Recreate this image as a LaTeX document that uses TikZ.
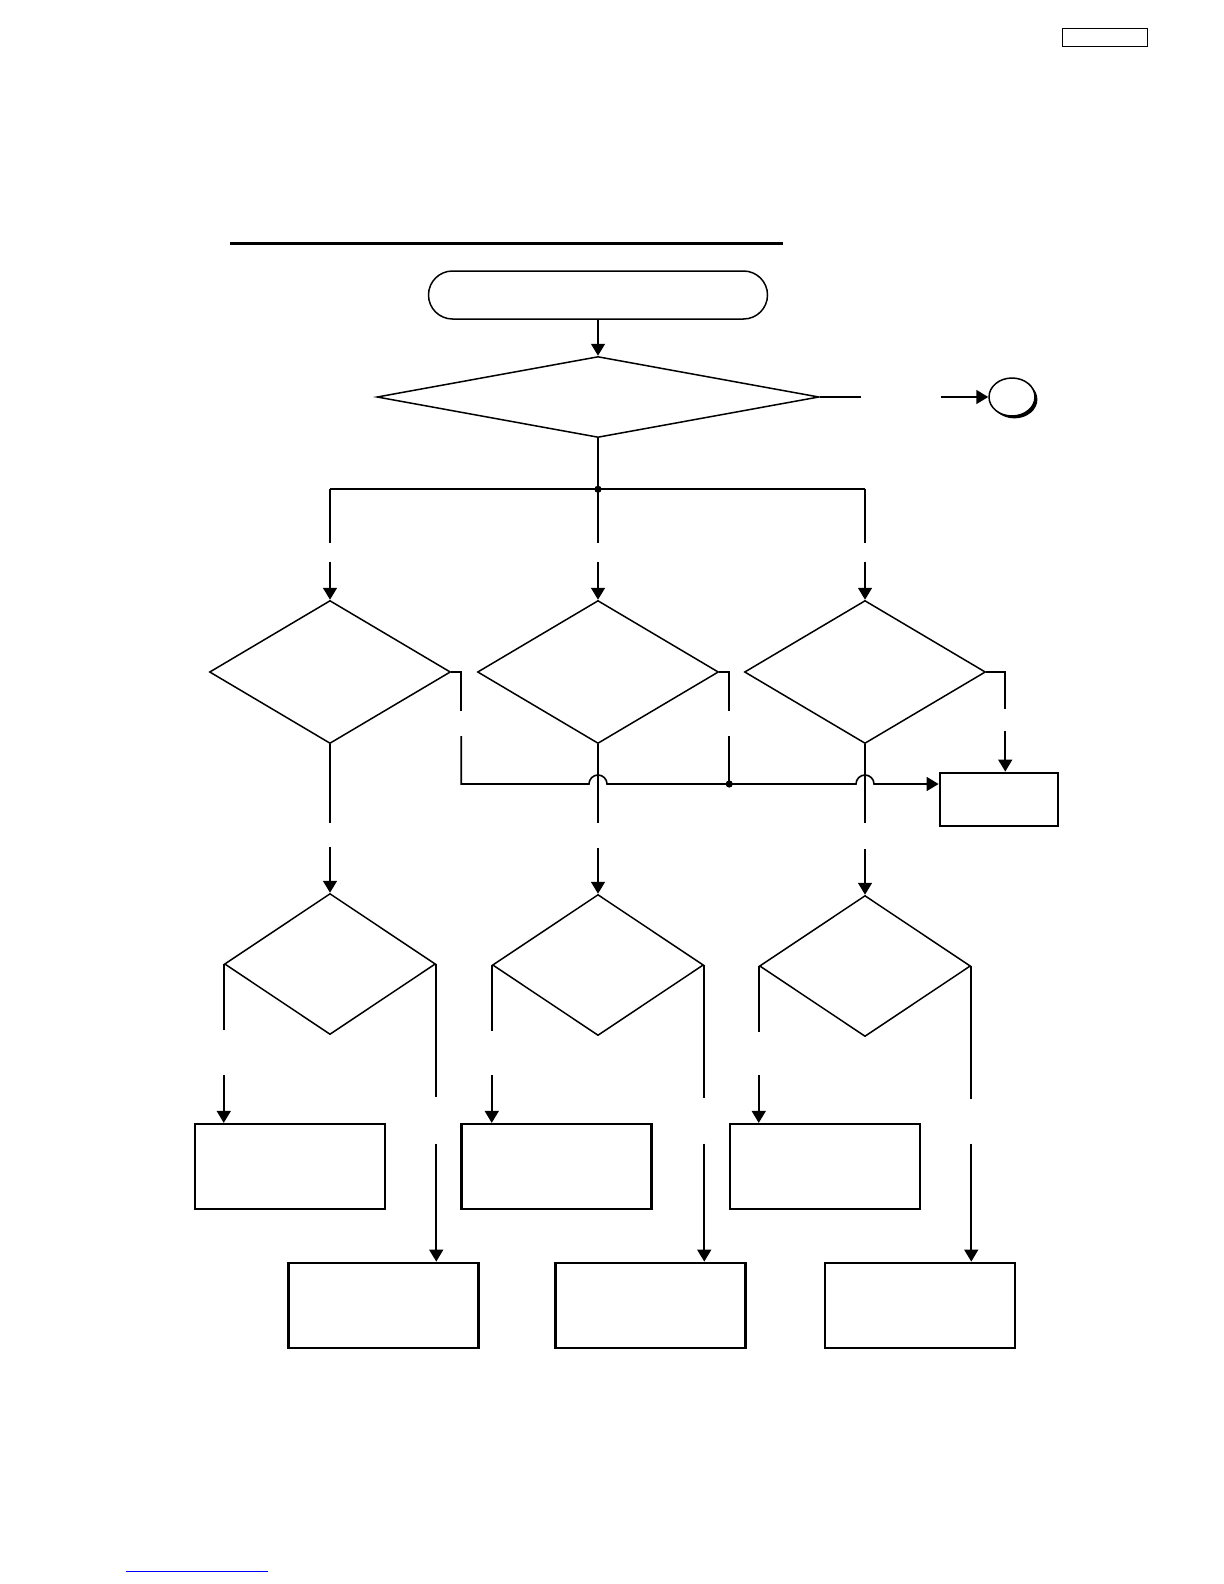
\documentclass[tikz,border=0pt]{standalone}
\usepackage{tikz}
\usetikzlibrary{arrows.meta,shapes.geometric,shadows,calc}

\tikzset{
  arr/.style={-{Triangle[length=6pt,width=7pt]}},
  decision/.style={diamond,draw,line width=0.75pt,inner sep=0pt},
  stepbox/.style={rectangle,draw,inner sep=0pt,minimum width=95pt,minimum height=42.5pt},
}

\begin{document}
\begin{tikzpicture}[x=0.5pt,y=-0.5pt,line width=0.8pt]
\useasboundingbox (0,0) rectangle (1224,1584);
\draw[line width=0.5pt] (1062,29) rectangle (1147,47);
\draw[line width=1.5pt] (230,243) -- (783,243);
\node[draw,rounded corners=12pt,line width=0.75pt,minimum width=169.5pt,minimum height=24pt] (start) at (598,295) {};
\node[decision,minimum width=221pt,minimum height=40.5pt] (dmain) at (598,397) {};
\node[ellipse,draw,fill=white,line width=0.75pt,minimum width=23pt,minimum height=19pt,inner sep=0pt,
  drop shadow={shadow xshift=1.2pt,shadow yshift=-1.2pt,opacity=1,fill=black}] (conn) at (1012,397) {};
% decisions
\foreach \c/\x in {a/330,b/598,c/865}
  \node[decision,minimum width=120.5pt,minimum height=71.5pt] (d1\c) at (\x,672) {};
\foreach \c/\x/\y in {a/330/964,b/598/965,c/865/966}
  \node[decision,minimum width=105.5pt,minimum height=70.5pt] (d2\c) at (\x,\y) {};
% boxes
\foreach \c/\x in {A/290,B/556.5,C/825}
  \node[stepbox,line width=1.1pt] (box\c) at (\x,1166.5) {};
\foreach \c/\x in {D/383.5,E/650.5,F/920}
  \node[stepbox,line width=1.4pt] (box\c) at (\x,1305.5) {};
\node[rectangle,draw,line width=1.4pt,minimum width=59pt,minimum height=26.5pt,inner sep=0pt] (boxR) at (999,799.5) {};

% top part
\draw[arr] (start.south) -- (start.south |- dmain.north);
\draw (dmain.east) -- ++(41,0);
\draw[arr] ($(conn.west)+(-47,0)$) -- (conn.west);
\coordinate (j0) at ($(dmain.south)+(0,51)$);
\draw (dmain.south) -- (j0);
\draw (j0 -| d1a.north) -- (j0 -| d1c.north);
\fill (j0) circle (1.8pt);
\foreach \c in {a,b,c} {
  \draw (j0 -| d1\c.north) -- ++(0,54);
  \draw[arr] ($(d1\c.north)+(0,-38)$) -- (d1\c.north);
}

% exits of first row
\coordinate (ma) at ($(d1a.east)+(10,0)$);
\coordinate (bus) at ($(ma)+(0,112)$);
\draw (d1a.east) -- (ma) -- ++(0,39);
\draw[arr] ($(ma)+(0,64)$) -- (bus)
  -- ($(bus -| d1b.south)+(-9,0)$) arc[start angle=180,end angle=0,radius=4.5pt]
  -- ($(bus -| d1c.south)+(-9,0)$) arc[start angle=180,end angle=0,radius=4.5pt]
  -- (bus -| boxR.west);
\coordinate (mb) at ($(d1b.east)+(10,0)$);
\draw (d1b.east) -- (mb) -- ++(0,39);
\draw ($(mb)+(0,64)$) -- (mb |- bus);
\fill (mb |- bus) circle (1.8pt);
\coordinate (mc) at ($(d1c.east)+(19,0)$);
\draw (d1c.east) -- (mc) -- ++(0,37);
\draw[arr] ($(mc)+(0,59)$) -- (mc |- boxR.north);
\foreach \c in {a,b,c} {
  \draw (d1\c.south) -- ++(0,79);
  \draw[arr] ($(d2\c.north)+(0,-46)$) -- (d2\c.north);
}

% exits of second row
\foreach \c/\u/\l in {a/A/D,b/B/E,c/C/F} {
  \draw (d2\c.west) -- ++(0,66);
  \draw[arr] ($(box\u.north -| d2\c.west)+(0,-48)$) -- (box\u.north -| d2\c.west);
  \draw (d2\c.east) -- ++(0,133);
  \draw[arr] ($(box\l.north -| d2\c.east)+(0,-118)$) -- (box\l.north -| d2\c.east);
}

\draw[blue,line width=0.5pt] (126,1571) -- (268,1571);
\end{tikzpicture}
\end{document}
